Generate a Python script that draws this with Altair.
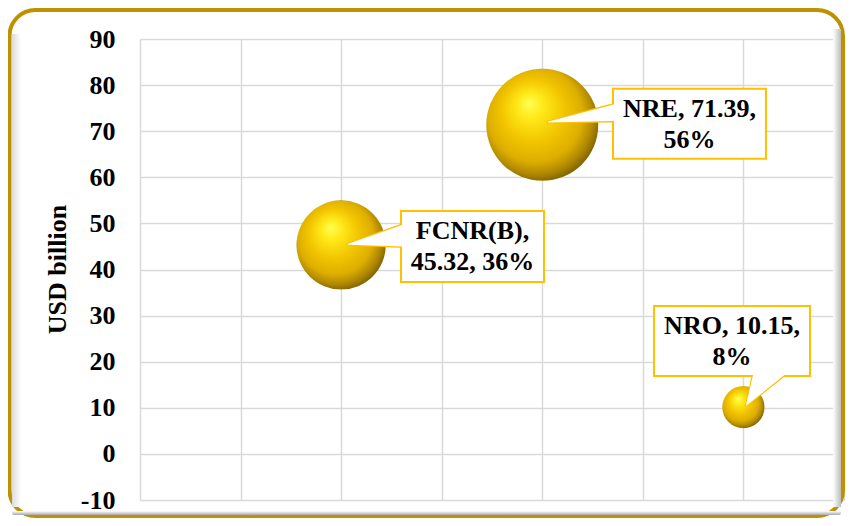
import altair as alt
import pandas as pd

# ---- data ----
names = ["FCNR(B)", "NRE", "NRO"]
x_pos = [2, 4, 6]
values = [45.32, 71.39, 10.15]
shares = ["36%", "56%", "8%"]
line1 = ["FCNR(B),", "NRE, 71.39,", "NRO, 10.15,"]
line2 = ["45.32, 36%", "56%", "8%"]
y_ticks = list(range(-10, 100, 10))
x_ticks = list(range(0, 8))

# ---- callout layout (data units) ----
box_x1 = [2.595, 4.703, 5.111]
box_x2 = [4.017, 6.224, 6.662]
box_y1 = [37.3, 64.0, 16.9]
box_y2 = [52.7, 79.2, 32.1]
tip_x = [2.07, 4.06, 6.03]
tip_y = [45.5, 72.0, 10.6]
base_x = [2.68, 4.78, 6.27]
base_y = [47.5, 74.2, 18.9]
base_w = [24, 18, 32]

FONT = "Liberation Serif"
GOLD = "#FFC000"

bubbles = pd.DataFrame({"name": names, "x": x_pos, "y": values})
boxes = pd.DataFrame({
    "name": names, "x": box_x1, "x2": box_x2, "y": box_y1, "y2": box_y2,
})
labels = pd.DataFrame({
    "name": names,
    "x": [(a + b) / 2 for a, b in zip(box_x1, box_x2)],
    "y": [(a + b) / 2 for a, b in zip(box_y1, box_y2)],
    "label": [a + "\n" + b for a, b in zip(line1, line2)],
})
rows = []
for i, n in enumerate(names):
    rows.append({"name": n, "o": 0, "x": tip_x[i], "y": tip_y[i], "w": 0})
    rows.append({"name": n, "o": 1, "x": base_x[i], "y": base_y[i], "w": base_w[i]})
wedges = pd.DataFrame(rows)
wedges["wg"] = wedges["w"] + 3

xscale = alt.Scale(domain=[0, 7], nice=False, zero=False)
yscale = alt.Scale(domain=[-10, 90], nice=False, zero=False)
xaxis = alt.Axis(values=x_ticks, labels=False, ticks=False, domain=False, title=None,
                 grid=True, gridColor="#D9D9D9", gridWidth=1.5)
yaxis = alt.Axis(values=y_ticks, ticks=False, domain=False, grid=True,
                 gridColor="#D9D9D9", gridWidth=1.5,
                 labelExpr="'' + datum.value",
                 labelFont=FONT, labelFontSize=26, labelFontWeight="bold",
                 labelColor="black", labelPadding=25,
                 title="USD billion", titleFont=FONT, titleFontSize=26,
                 titleFontWeight="bold", titleColor="black", titleAngle=270,
                 titleAlign="center", titleBaseline="middle", titleX=-83, titleY=230)


def X(f="x"):
    return alt.X(f"{f}:Q", scale=xscale, axis=xaxis)


def Y(f="y"):
    return alt.Y(f"{f}:Q", scale=yscale, axis=yaxis)


one = pd.DataFrame({"a": [0]})

# frame (pixel positions relative to plot origin at page (140,39))
frame = alt.Chart(one).mark_rect(
    fill="transparent", stroke="#BF9000", strokeWidth=4, cornerRadius=26
).encode(x=alt.value(-130.5), x2=alt.value(703), y=alt.value(-29), y2=alt.value(477))

shadow_left = alt.Chart(one).mark_rect(
    fill=alt.LinearGradient(gradient="linear", x1=0, x2=1, y1=0, y2=0,
                            stops=[alt.GradientStop(offset=0, color="#dcdcdc"),
                                   alt.GradientStop(offset=1, color="#ffffff")]),
).encode(x=alt.value(-128), x2=alt.value(-119), y=alt.value(-5), y2=alt.value(468))

shadow_bottom = alt.Chart(one).mark_rect(
    fill=alt.LinearGradient(gradient="linear", x1=0, x2=0, y1=0, y2=1,
                            stops=[alt.GradientStop(offset=0, color="#ffffff"),
                                   alt.GradientStop(offset=1, color="#a8a8a8")]),
    cornerRadiusBottomLeft=22, cornerRadiusBottomRight=22,
).encode(x=alt.value(-128), x2=alt.value(701), y=alt.value(472), y2=alt.value(476))

shadow_right = alt.Chart(one).mark_rect(
    fill=alt.LinearGradient(gradient="linear", x1=0, x2=1, y1=0, y2=0,
                            stops=[alt.GradientStop(offset=0, color="#ffffff"),
                                   alt.GradientStop(offset=1, color="#bdbdbd")]),
).encode(x=alt.value(693), x2=alt.value(701), y=alt.value(-10), y2=alt.value(468))

ball_fill = alt.RadialGradient(
    gradient="radial", x1=0.38, y1=0.3, r1=0, x2=0.46, y2=0.46, r2=0.62,
    stops=[alt.GradientStop(offset=0, color="#FFFF55"),
           alt.GradientStop(offset=0.18, color="#FFEA1A"),
           alt.GradientStop(offset=0.45, color="#F2C500"),
           alt.GradientStop(offset=0.68, color="#DDAE00"),
           alt.GradientStop(offset=0.82, color="#B08800"),
           alt.GradientStop(offset=1, color="#5A4400")])

balls = alt.Chart(bubbles).mark_point(
    shape="circle", filled=True, fill=ball_fill, opacity=1, strokeWidth=0
).encode(
    x=X(), y=Y(),
    size=alt.Size("y:Q", scale=alt.Scale(domain=[0, 100], range=[0, 17570]), legend=None),
)

wedge_gold = alt.Chart(wedges).mark_trail(color=GOLD).encode(
    x=X(), y=Y(), detail="name:N", order="o:Q",
    size=alt.Size("wg:Q", scale=None, legend=None),
)
wedge_white = alt.Chart(wedges).mark_trail(color="white").encode(
    x=X(), y=Y(), detail="name:N", order="o:Q",
    size=alt.Size("w:Q", scale=None, legend=None),
)

box = alt.Chart(boxes).mark_rect(fill="white", stroke=GOLD, strokeWidth=2).encode(
    x=X(), x2="x2:Q", y=Y(), y2="y2:Q",
)

text = alt.Chart(labels).mark_text(
    font=FONT, fontSize=26, fontWeight="bold", color="black",
    lineBreak="\n", lineHeight=31, align="center", baseline="middle", dy=-15,
).encode(x=X(), y=Y(), text="label:N")

chart = alt.layer(
    frame, shadow_left, shadow_bottom, shadow_right,
    balls, wedge_gold, box, wedge_white, text,
).properties(
    width=704, height=461,
    autosize=alt.AutoSizeParams(type="none"),
    padding={"left": 132, "top": 31, "right": 2, "bottom": 18},
    background="white",
).configure_view(stroke=None)

chart.save("out.html", embed_options={"renderer": "svg", "actions": False})
